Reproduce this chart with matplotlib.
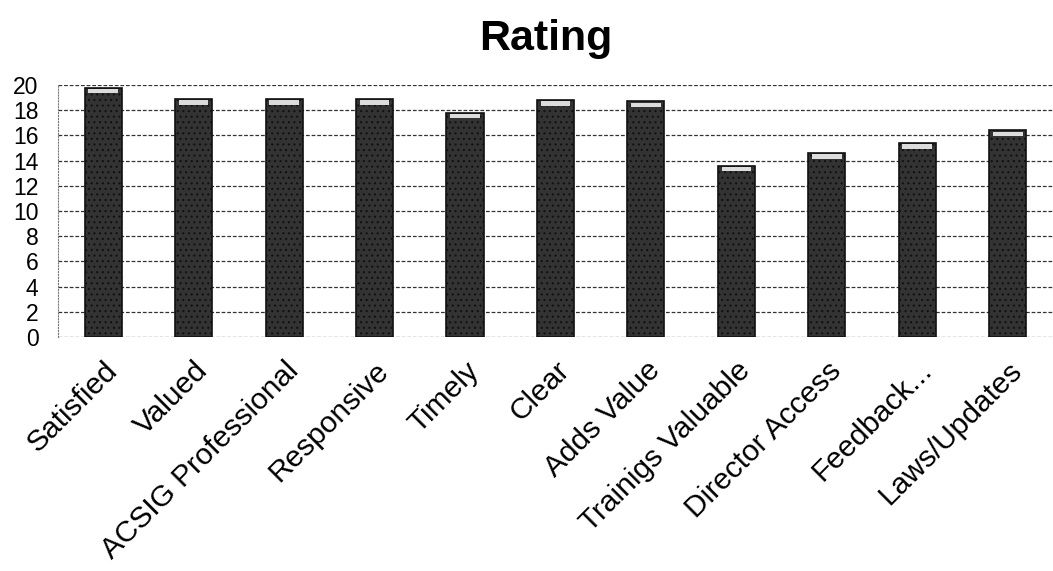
import matplotlib.pyplot as plt
import numpy as np

plt.rcParams['font.family'] = ['Liberation Sans', 'DejaVu Sans']
plt.rcParams['hatch.color'] = '#9a9a9a'
plt.rcParams['hatch.linewidth'] = 0.8

categories = ['Satisfied', 'Valued', 'ACSIG Professional', 'Responsive', 'Timely',
              'Clear', 'Adds Value', 'Trainigs Valuable', 'Director Access',
              'Feedback...', 'Laws/Updates']
ratings = [19.8, 18.9, 18.9, 18.9, 17.8, 18.8, 18.7, 13.6, 14.6, 15.4, 16.4]
y_ticks = list(range(0, 21, 2))

x = np.arange(len(categories))
width = 0.41
cap = 0.35  # light top face of each column

fig = plt.figure(figsize=(10.53, 5.71), dpi=100)
ax = fig.add_axes([0.055, 0.41, 0.945, 0.441])

ax.bar(x, ratings, width, color='#333333', edgecolor='#111111',
       linewidth=1.2, hatch='...', zorder=3)
ax.bar(x, [cap] * len(x), width * 0.8, bottom=np.array(ratings) - cap - 0.1,
       color='#dcdcdc', edgecolor='none', zorder=4)

ax.set_xlim(-0.5, len(categories) - 0.5)
ax.set_ylim(0, 20)
ax.set_yticks(y_ticks)
ax.set_yticklabels([str(t) for t in y_ticks], fontsize=16.5)
ax.tick_params(axis='y', length=0, pad=14)
ax.set_xticks(x)
ax.set_xticklabels(categories, rotation=45, ha='right', rotation_mode='anchor',
                   fontsize=21.5)
ax.tick_params(axis='x', length=0, pad=14)

ax.grid(axis='y', color='#333333', linestyle=(0, (3, 1.5)), linewidth=0.9, zorder=0)
for side in ['top', 'right', 'bottom']:
    ax.spines[side].set_visible(False)
ax.spines['left'].set_linestyle(':')
ax.spines['left'].set_color('#777777')

fig.text(0.518, 0.932, 'Rating', ha='center', va='center', fontsize=31,
         fontweight='bold')

fig.savefig('out.png', dpi=100)
